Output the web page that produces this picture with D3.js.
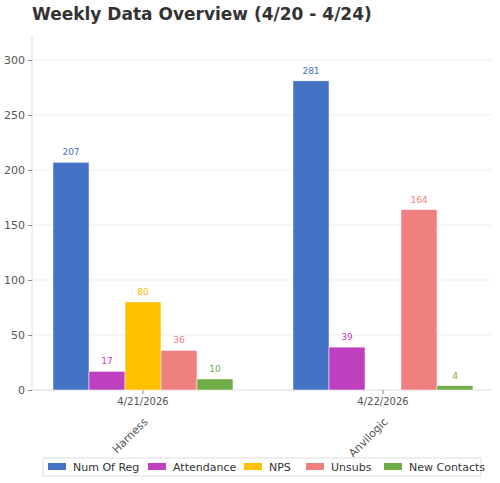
<!DOCTYPE html><html><head><meta charset="utf-8"><script src="https://cdn.jsdelivr.net/npm/d3@7"></script>
<style>body{margin:0;background:#fff}text{font-family:"DejaVu Sans",sans-serif}</style></head><body><svg id="c" width="500" height="483"></svg>
<script>
const dates=["4/21/2026","4/22/2026"];
const names=["Harness","Anvilogic"];
const seriesNames=["Num Of Reg","Attendance","NPS","Unsubs","New Contacts"];
const colors=["#4472C4","#BF40BF","#FFC000","#F08080","#70AD47"];
const numOfReg=[207,281];
const attendance=[17,39];
const nps=[80,0];
const unsubs=[36,164];
const newContacts=[10,4];
const yTicks=[0,50,100,150,200,250,300];
const vals=[numOfReg,attendance,nps,unsubs,newContacts];
const svg=d3.select("#c");
const L=32,R=492,T=35,B=390;
const y=d3.scaleLinear().domain([0,322.7]).range([B,T]);
const x0=d3.scaleBand().domain(dates).range([L,R]).paddingInner(0.0435).paddingOuter(0.0435*0+0.0435);
const x0b=d3.scaleLinear().domain([0,1]).range([143,383]);
const bw=36;
svg.append("text").attr("x",32).attr("y",20).attr("font-size",17).attr("font-weight","bold").attr("fill","#333").text("Weekly Data Overview (4/20 - 4/24)");
yTicks.forEach(t=>{if(t>0)svg.append("line").attr("x1",L).attr("x2",R).attr("y1",y(t)).attr("y2",y(t)).attr("stroke","#eee");});
svg.append("line").attr("x1",L).attr("x2",L).attr("y1",T).attr("y2",B).attr("stroke","#ddd");
svg.append("line").attr("x1",L).attr("x2",R).attr("y1",B).attr("y2",B).attr("stroke","#ddd");
const ya=svg.append("g").attr("transform",`translate(${L},0)`).call(d3.axisLeft(y).tickValues(yTicks).tickSize(4));
ya.select(".domain").remove();ya.selectAll("line").attr("stroke","#888");ya.selectAll("text").attr("fill","#555").attr("font-size",11);
dates.forEach((d,i)=>{
 const cx=x0b(i);
 svg.append("line").attr("x1",cx).attr("x2",cx).attr("y1",B).attr("y2",B+4).attr("stroke","#888");
 svg.append("text").attr("x",cx).attr("y",B+15).attr("text-anchor","middle").attr("font-size",10).attr("fill","#555").text(d);
 svg.append("text").attr("transform",`translate(${cx},${B+27}) rotate(-45)`).attr("text-anchor","end").attr("dy","0.7em").attr("font-size",11).attr("fill","#555").text(names[i]);
 vals.forEach((s,j)=>{
  const bx=cx-2.5*bw+j*bw,v=s[i];
  svg.append("rect").attr("x",bx).attr("width",bw).attr("y",y(v)).attr("height",B-y(v)).attr("fill",colors[j]).attr("stroke","#fff").attr("stroke-width",0.5);
  if(v>0)svg.append("text").attr("x",bx+bw/2).attr("y",y(v)-7).attr("text-anchor","middle").attr("font-size",9).attr("fill",colors[j]).text(v);
 });
});
const lg=svg.append("g");
lg.append("rect").attr("x",43).attr("y",458).attr("width",438).attr("height",18).attr("fill","#fff").attr("stroke","#ddd");
const lx=[48,148,244,306,384];
seriesNames.forEach((n,j)=>{
 lg.append("rect").attr("x",lx[j]).attr("y",463).attr("width",18).attr("height",7).attr("fill",colors[j]);
 lg.append("text").attr("x",lx[j]+25).attr("y",471).attr("font-size",11).attr("fill","#333").text(n);
});
</script></body></html>
